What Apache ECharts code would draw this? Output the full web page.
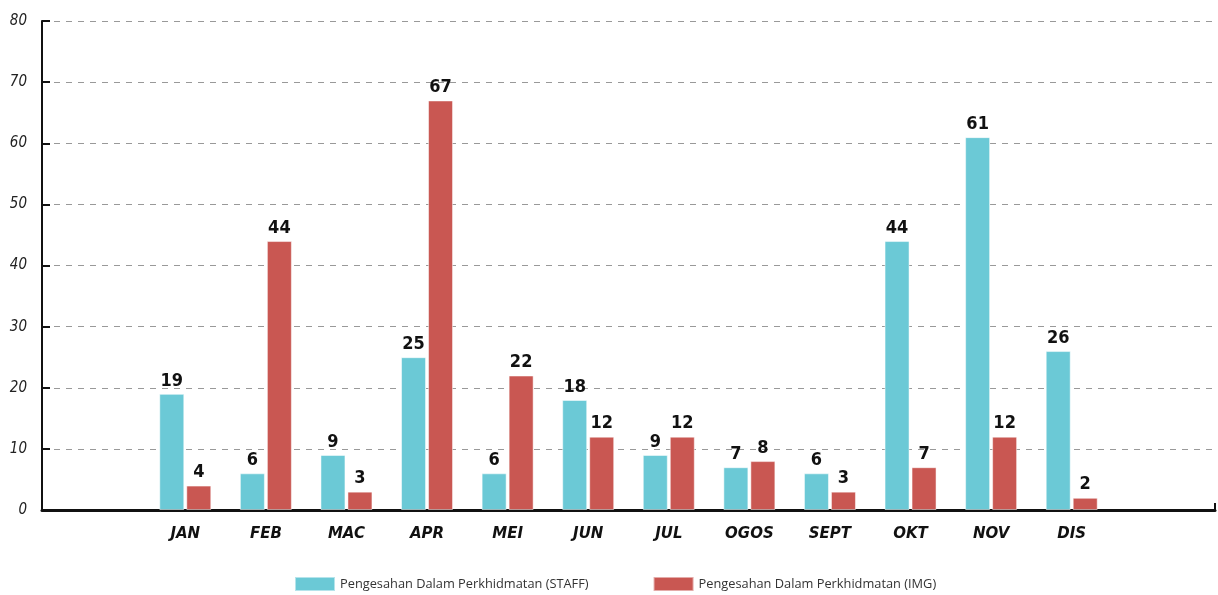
<!DOCTYPE html>
<html>
<head>
<meta charset="utf-8">
<script src="https://cdn.jsdelivr.net/npm/echarts@6/dist/echarts.min.js"></script>
<style>
  html, body { margin: 0; padding: 0; background: #fff; }
  #chart { width: 1218px; height: 595px; }
</style>
</head>
<body>
<div id="chart"></div>
<script>
const months = ['JAN', 'FEB', 'MAC', 'APR', 'MEI', 'JUN', 'JUL', 'OGOS', 'SEPT', 'OKT', 'NOV', 'DIS']
const staffName = 'Pengesahan Dalam Perkhidmatan (STAFF)'
const imgName = 'Pengesahan Dalam Perkhidmatan (IMG)'
const staffValues = [19, 6, 9, 25, 6, 18, 9, 7, 6, 44, 61, 26]
const imgValues = [4, 44, 3, 67, 22, 12, 12, 8, 3, 7, 12, 2]

const chart = echarts.init(document.getElementById('chart'))

// condensed look for numbers
const barLabel = {
  show: true,
  position: 'top',
  distance: 4,
  color: '#111',
  fontFamily: '"DejaVu Sans"',
  fontWeight: 'bold condensed',
  fontSize: 18
}

const option = {
  animation: false,
  legend: {
    top: 571,
    left: 289,
    itemWidth: 40,
    itemHeight: 14,
    itemGap: 64,
    icon: 'rect',
    textStyle: { color: '#333', fontFamily: '"Open Sans", sans-serif', fontSize: 12.8 },
    data: [staffName, imgName]
  },
  grid: [
    // frame: y axis, split lines, full-width axis line
    { left: 42, right: 3, top: 21, bottom: 85 },
    // bars
    { left: 145, right: 106, top: 21, bottom: 85 }
  ],
  xAxis: [
    {
      type: 'category',
      gridIndex: 0,
      data: ['', ''],
      boundaryGap: false,
      axisLine: { lineStyle: { color: '#111', width: 3 } },
      axisTick: { inside: true, length: 7, lineStyle: { color: '#111', width: 2 } },
      axisLabel: { show: false }
    },
    {
      type: 'category',
      gridIndex: 1,
      data: months,
      axisLine: { show: false },
      axisTick: { show: false },
      axisLabel: {
        margin: 17,
        color: '#111',
        fontFamily: '"DejaVu Sans", sans-serif',
        fontWeight: 'bold',
        fontStyle: 'italic',
        fontSize: 15
      }
    }
  ],
  yAxis: [
    {
      type: 'value',
      gridIndex: 0,
      min: 0,
      max: 80,
      interval: 10,
      axisLine: { show: true, lineStyle: { color: '#111', width: 2 } },
      axisTick: { show: true, inside: true, length: 8, lineStyle: { color: '#111', width: 2 } },
      axisLabel: {
        margin: 15,
        color: '#222',
        fontFamily: '"DejaVu Sans"',
        fontStyle: 'italic',
        fontWeight: 'normal condensed',
        fontSize: 15
      },
      splitLine: { lineStyle: { color: '#999', type: [6, 6], width: 1 } }
    },
    {
      type: 'value',
      gridIndex: 1,
      min: 0,
      max: 80,
      interval: 10,
      show: false,
      splitLine: { show: false }
    }
  ],
  series: [
    {
      name: staffName,
      type: 'bar',
      xAxisIndex: 1,
      yAxisIndex: 1,
      barWidth: 25,
      barGap: '8%',
      itemStyle: { color: '#6bc9d6', borderColor: 'rgba(255,255,255,0.5)', borderWidth: 1 },
      label: barLabel,
      data: staffValues
    },
    {
      name: imgName,
      type: 'bar',
      xAxisIndex: 1,
      yAxisIndex: 1,
      barWidth: 25,
      itemStyle: { color: '#c95752', borderColor: 'rgba(255,255,255,0.5)', borderWidth: 1 },
      label: barLabel,
      data: imgValues
    }
  ]
}

chart.setOption(option)
</script>
</body>
</html>
